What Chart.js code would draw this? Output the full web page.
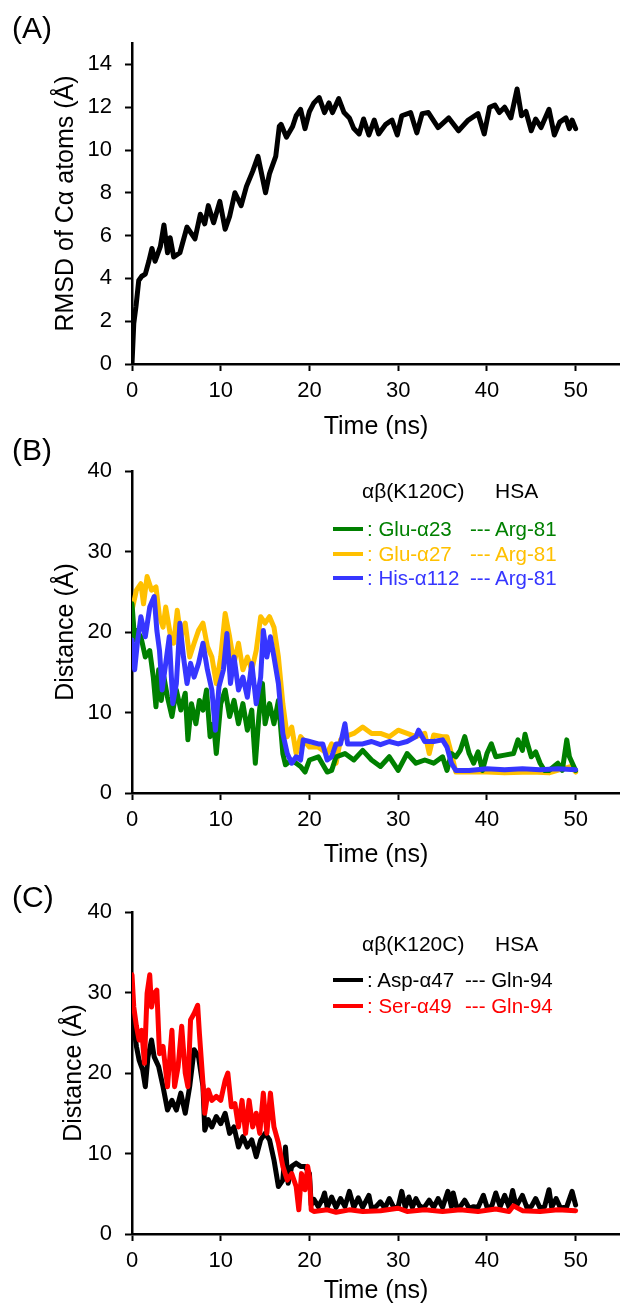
<!DOCTYPE html>
<html>
<head>
<meta charset="utf-8">
<script src="https://cdn.jsdelivr.net/npm/chart.js@4.4.1/dist/chart.umd.min.js"></script>
<style>
body { margin: 0; background: #fff; font-family: 'Liberation Sans', Arial, sans-serif; }
#page { position: relative; width: 620px; height: 1304px; overflow: hidden; }
.panel { position: absolute; left: 0; }
.lbl { position: absolute; white-space: nowrap; line-height: 1; font-size: 20.5px; }
.hdr { font-size: 21px; }
.tag { position: absolute; left: 12px; font-size: 30px; line-height: 1; }
.sw { position: absolute; left: 333px; width: 30px; height: 4px; }
</style>
</head>
<body>
<div id="page">
  <canvas id="chartA" class="panel" style="top:0px" width="620" height="440"></canvas>
  <canvas id="chartB" class="panel" style="top:440px" width="620" height="430"></canvas>
  <canvas id="chartC" class="panel" style="top:870px" width="620" height="434"></canvas>

  <div class="tag" style="top:13px">(A)</div>
  <div class="tag" style="top:435px">(B)</div>
  <div class="tag" style="top:882px">(C)</div>

  <!-- leyenda B -->
  <div class="lbl hdr" style="left:362px;top:480px">αβ(K120C)</div>
  <div class="lbl hdr" style="left:495px;top:480px">HSA</div>
  <div class="sw" style="top:527px;background:#008000"></div>
  <div class="lbl" style="left:367px;top:519px;color:#008000">: Glu-α23</div>
  <div class="lbl" style="left:470px;top:519px;color:#008000">--- Arg-81</div>
  <div class="sw" style="top:552px;background:#FFC000"></div>
  <div class="lbl" style="left:367px;top:544px;color:#FFC000">: Glu-α27</div>
  <div class="lbl" style="left:470px;top:544px;color:#FFC000">--- Arg-81</div>
  <div class="sw" style="top:576px;background:#3636FF"></div>
  <div class="lbl" style="left:367px;top:568px;color:#3636FF">: His-α112</div>
  <div class="lbl" style="left:470px;top:568px;color:#3636FF">--- Arg-81</div>

  <!-- leyenda C -->
  <div class="lbl hdr" style="left:362px;top:933px">αβ(K120C)</div>
  <div class="lbl hdr" style="left:495px;top:933px">HSA</div>
  <div class="sw" style="top:978px;background:#000"></div>
  <div class="lbl" style="left:367px;top:970px;color:#000">: Asp-α47</div>
  <div class="lbl" style="left:465px;top:970px;color:#000">--- Gln-94</div>
  <div class="sw" style="top:1004px;background:#FF0000"></div>
  <div class="lbl" style="left:367px;top:996px;color:#FF0000">: Ser-α49</div>
  <div class="lbl" style="left:465px;top:996px;color:#FF0000">--- Gln-94</div>
</div>

<script>
// datos: [tiempo (ns), valor]
const rmsdCa = [[0,0],[0.2,1.9],[0.45,2.7],[0.76,3.9],[1.1,4.1],[1.5,4.2],[1.9,4.8],[2.25,5.4],[2.6,4.8],[3.2,5.5],[3.6,6.5],[4.0,5.2],[4.3,5.9],[4.7,5.0],[5.4,5.2],[6.2,6.4],[7.1,5.85],[7.7,7.0],[8.2,6.55],[8.6,7.4],[9.2,6.6],[9.9,7.6],[10.5,6.3],[11.0,6.9],[11.6,8.0],[12.3,7.4],[12.9,8.3],[13.6,9.0],[14.2,9.7],[14.6,8.9],[15.05,8.0],[15.5,8.9],[16.2,9.7],[16.6,11.1],[16.8,11.2],[17.4,10.6],[18.1,11.1],[18.5,11.6],[19.0,11.9],[19.5,11.0],[20.0,11.8],[20.5,12.2],[21.1,12.45],[21.7,11.75],[22.2,12.2],[22.6,11.75],[23.3,12.4],[23.9,11.75],[24.5,11.5],[25.0,11.0],[25.6,10.75],[26.1,11.45],[26.7,10.7],[27.3,11.4],[27.8,10.75],[28.6,11.2],[29.3,11.4],[29.9,10.7],[30.4,11.6],[31.4,11.75],[32.1,10.8],[32.7,11.7],[33.4,11.75],[34.5,11.05],[35.7,11.5],[36.8,10.9],[37.9,11.4],[39.0,11.7],[39.7,10.75],[40.3,12.0],[40.9,12.1],[41.4,11.75],[42.0,12.0],[42.7,11.5],[43.4,12.85],[43.9,11.6],[44.4,11.8],[45.0,10.9],[45.5,11.45],[46.1,11.05],[47.0,11.9],[47.6,10.7],[48.2,11.3],[48.9,11.5],[49.3,11.0],[49.6,11.4],[50.0,11.0]];

const gluA23 = [[0,23.5],[0.3,19.0],[0.5,20.2],[1,19.4],[1.5,16.9],[2,17.7],[2.4,14.4],[2.7,10.7],[3,15.3],[3.3,11.5],[3.6,14.4],[4,11.9],[4.5,9.5],[5,12.8],[5.5,10.3],[6,12.4],[6.3,6.6],[6.7,11.1],[7.2,8.6],[7.6,11.5],[8,10.3],[8.4,12.8],[8.8,7.0],[9.2,8.6],[9.5,4.9],[10,11.1],[10.5,12.8],[11,9.5],[11.5,11.5],[12,8.6],[12.5,11.1],[13,7.8],[13.5,10.3],[13.9,3.7],[14.3,9.5],[14.7,13.6],[15,8.6],[15.5,11.1],[16,8.6],[16.5,11.5],[17,4.9],[17.3,3.5],[18,4.1],[19,3.3],[19.5,2.6],[20,4.1],[21,4.5],[22,2.6],[22.5,2.8],[23,4.5],[24,4.9],[25,4.1],[26,5.3],[27,4.1],[28,3.3],[29,4.5],[30,2.8],[31,4.9],[32,3.7],[33,4.1],[34,3.7],[35,4.5],[35.5,2.8],[36,4.9],[36.5,4.5],[37,5.3],[37.5,7.0],[38,4.9],[38.5,3.7],[39,5.1],[39.5,2.8],[40,4.9],[40.5,6.1],[41,4.5],[42,4.7],[43,4.9],[43.5,6.6],[44,5.3],[44.3,7.3],[44.5,6.4],[45,4.5],[45.5,5.1],[46,3.7],[46.5,2.8],[47,2.8],[48,3.7],[48.5,2.8],[49,6.6],[49.3,4.5],[50,2.8]];

const gluA27 = [[0,22.7],[0.5,25.2],[1,26.0],[1.3,23.5],[1.7,26.9],[2.2,25.2],[2.7,25.6],[3.1,21.9],[3.5,20.6],[3.8,23.1],[4.3,19.8],[4.7,18.6],[5.1,22.7],[5.5,19.4],[6,21.1],[6.5,16.9],[7,18.6],[7.5,20.2],[8,21.1],[8.5,18.2],[9,16.9],[9.5,13.6],[10,16.9],[10.5,22.3],[11,19.4],[11.5,16.1],[12,18.6],[12.5,15.3],[13,16.9],[13.5,15.3],[14,17.7],[14.5,21.9],[15,21.1],[15.5,21.9],[16,20.6],[16.5,16.9],[17,11.1],[17.5,7.0],[18,8.2],[18.5,4.9],[19,7.0],[20,5.7],[21,5.7],[22,4.9],[22.5,6.1],[23,3.7],[23.5,6.6],[24,7.0],[25,7.4],[26,8.2],[27,7.4],[28,7.4],[29,7.0],[30,7.8],[31,7.4],[32,7.0],[33,7.4],[33.5,4.9],[34,7.2],[35,7.0],[35.5,7.0],[36,4.9],[36.5,2.6],[38,2.6],[40,2.6],[42,2.5],[45,2.6],[47,2.5],[49.5,3.3],[50,2.6]];

const hisA112 = [[0,19.0],[0.3,15.3],[0.6,18.6],[1,21.9],[1.5,19.4],[2,23.1],[2.5,24.4],[2.8,20.2],[3.1,17.7],[3.4,12.8],[3.8,16.1],[4.2,19.4],[4.6,11.1],[5,13.6],[5.4,21.1],[5.8,16.9],[6.2,13.6],[6.6,16.1],[7,14.4],[7.5,16.1],[8,18.6],[8.5,15.3],[9,12.8],[9.4,7.8],[9.8,13.2],[10.3,15.3],[10.7,19.8],[11.1,13.6],[11.5,16.9],[12,12.8],[12.5,14.4],[13,11.9],[13.5,16.1],[14,11.1],[14.5,14.4],[14.8,20.2],[15.2,16.9],[15.6,19.4],[16,16.9],[16.5,13.6],[17,7.4],[17.5,4.9],[18,3.7],[18.5,4.5],[19,4.1],[19.3,6.6],[20,6.4],[21,6.1],[21.5,6.1],[22,4.1],[22.5,4.5],[23,6.1],[23.5,6.1],[24,8.6],[24.3,6.1],[25,6.1],[26,6.1],[27,6.4],[28,6.0],[29,6.4],[30,6.1],[31,6.4],[32,7.0],[32.3,7.8],[33,6.4],[34,6.4],[35,6.6],[35.5,5.7],[36,3.7],[36.5,2.8],[38,2.8],[40,3.0],[42,2.9],[44,3.0],[46,2.9],[48,3.0],[50,2.9]];

const aspA47 = [[0,29.1],[0.2,25.8],[0.5,23.3],[0.8,21.6],[1.2,20.4],[1.5,18.3],[1.8,22.0],[2.2,24.1],[2.5,22.0],[3,20.8],[3.5,18.3],[4,15.4],[4.5,16.6],[5,15.4],[5.5,17.5],[6,15.0],[6.5,18.3],[7,22.9],[7.5,22.0],[8,18.3],[8.2,12.9],[8.6,14.2],[9,13.3],[9.5,14.6],[10,13.7],[10.5,15.0],[11,12.5],[11.5,13.3],[12,10.8],[12.5,12.1],[13,10.8],[13.5,11.7],[14,9.6],[14.5,11.7],[15,12.5],[15.5,11.7],[16,9.2],[16.5,5.9],[17,6.7],[17.3,10.8],[17.6,6.3],[18,8.4],[18.5,8.8],[19,8.4],[19.5,8.4],[20,7.5],[20.2,3.6],[20.5,4.3],[21,3.4],[21.5,4.4],[21.7,5.1],[22,3.3],[22.5,4.6],[23,3.3],[23.5,4.4],[24,3.4],[24.5,5.3],[25,3.3],[25.5,4.5],[26,3.3],[26.7,4.8],[27,3.2],[27.5,3.4],[28,4.0],[28.5,3.2],[29,4.4],[29.5,3.3],[30,3.4],[30.4,5.3],[30.8,3.3],[31.2,4.6],[31.6,3.3],[32,4.4],[32.5,3.3],[33,3.4],[33.5,4.2],[34,3.3],[34.5,4.4],[35,3.3],[35.6,5.3],[36,3.4],[36.2,5.1],[36.6,3.3],[37,3.4],[37.5,4.2],[38,3.2],[38.5,3.4],[39,3.3],[39.6,4.8],[40,3.4],[40.5,3.3],[41,5.1],[41.5,3.4],[42,4.8],[42.5,3.3],[42.9,5.4],[43.3,3.4],[44,4.8],[44.5,3.3],[45,3.4],[45.5,4.4],[46,3.2],[46.5,3.4],[47,5.5],[47.3,3.3],[47.8,4.4],[48.3,3.2],[49,3.4],[49.6,5.3],[50,3.6]];

const serA49 = [[0,32.2],[0.2,28.2],[0.5,25.8],[0.8,24.1],[1.1,25.3],[1.4,21.2],[1.7,29.9],[2.0,32.2],[2.2,28.2],[2.5,29.9],[2.8,30.3],[3.1,22.4],[3.5,23.3],[4,18.3],[4.5,25.3],[4.8,18.3],[5.2,20.8],[5.6,25.8],[6.0,20.0],[6.3,18.3],[6.6,26.6],[7.0,27.4],[7.4,28.4],[7.6,24.9],[8.0,18.7],[8.2,15.0],[8.6,17.9],[9.0,16.6],[9.5,17.1],[10,16.6],[10.5,19.1],[10.8,20.0],[11.2,15.8],[11.6,16.2],[12,13.3],[12.4,16.6],[12.8,12.5],[13.2,16.6],[13.6,13.3],[14,15.0],[14.4,12.5],[14.8,17.5],[15.2,12.5],[15.6,17.5],[16,13.3],[16.5,11.3],[17,8.4],[17.5,6.7],[18,7.5],[18.5,5.9],[18.8,3.0],[19.1,7.5],[19.5,5.5],[19.8,8.4],[20,7.1],[20.2,3.0],[20.5,2.8],[22,3.0],[23,2.7],[24.5,3.0],[26,2.8],[28,2.9],[30,3.2],[31,2.8],[33,3.0],[35,2.8],[37,3.0],[39,2.8],[41,3.1],[42.5,2.8],[43,3.5],[44,2.9],[46,2.8],[48,3.0],[50,2.9]];

const xTicks = [0, 10, 20, 30, 40, 50];
const yTicksA = [0, 2, 4, 6, 8, 10, 12, 14];
const yTicksBC = [0, 10, 20, 30, 40];

const FONT = "'Liberation Sans', Arial, sans-serif";

function serie(pares, color, orden) {
    return {
        data: pares.map(function (p) { return { x: p[0], y: p[1] }; }),
        borderColor: color,
        borderWidth: 5,
        pointRadius: 0,
        tension: 0,
        borderJoinStyle: 'round',
        borderCapStyle: 'round',
        order: orden
    };
}

function dibujarPanel(id, datasets, cfg) {
    return new Chart(document.getElementById(id), {
        type: 'line',
        data: { datasets: datasets },
        options: {
            responsive: false,
            animation: false,
            layout: { padding: { top: cfg.top, left: 0, right: 0, bottom: 0 } },
            plugins: { legend: { display: false }, tooltip: { enabled: false } },
            scales: {
                x: {
                    type: 'linear', min: 0, max: 55,
                    afterBuildTicks: function (s) { s.ticks = xTicks.map(function (v) { return { value: v }; }); },
                    afterFit: function (s) { s.height = cfg.xHeight; },
                    ticks: { color: '#000', font: { family: FONT, size: 22 }, padding: 7, maxRotation: 0 },
                    grid: { drawOnChartArea: false, tickLength: 7, tickWidth: 2, tickColor: '#000' },
                    border: { color: '#000', width: 2.5 },
                    title: { display: true, text: 'Time (ns)', color: '#000', font: { family: FONT, size: 25, lineHeight: 1 }, padding: { top: 0, bottom: cfg.xTitlePad } }
                },
                y: {
                    min: 0, max: cfg.yMax,
                    afterBuildTicks: function (s) { s.ticks = cfg.yTicks.map(function (v) { return { value: v }; }); },
                    afterFit: function (s) { s.width = 132; },
                    ticks: { color: '#000', font: { family: FONT, size: 22 }, padding: 13 },
                    grid: { drawOnChartArea: false, tickLength: 7, tickWidth: 2, tickColor: '#000' },
                    border: { color: '#000', width: 2.5 },
                    title: { display: true, text: cfg.yTitle, color: '#000', font: { family: FONT, size: 25, lineHeight: 1 }, padding: { top: cfg.yTitlePad, bottom: 0 } }
                }
            }
        }
    });
}

dibujarPanel('chartA', [serie(rmsdCa, '#000', 0)], {
    top: 43, xHeight: 76, xTitlePad: 0, yMax: 15, yTicks: yTicksA, yTitle: 'RMSD of Cα atoms (Å)', yTitlePad: 54
});

dibujarPanel('chartB', [
    serie(hisA112, '#3636FF', 0),
    serie(gluA23, '#008000', 1),
    serie(gluA27, '#FFC000', 2)
], {
    top: 31, xHeight: 77, xTitlePad: 2, yMax: 40, yTicks: yTicksBC, yTitle: 'Distance (Å)', yTitlePad: 54
});

dibujarPanel('chartC', [
    serie(serA49, '#FF0000', 0),
    serie(aspA47, '#000', 1)
], {
    top: 42, xHeight: 70, xTitlePad: 0, yMax: 40, yTicks: yTicksBC, yTitle: 'Distance (Å)', yTitlePad: 62
});
</script>
</body>
</html>
